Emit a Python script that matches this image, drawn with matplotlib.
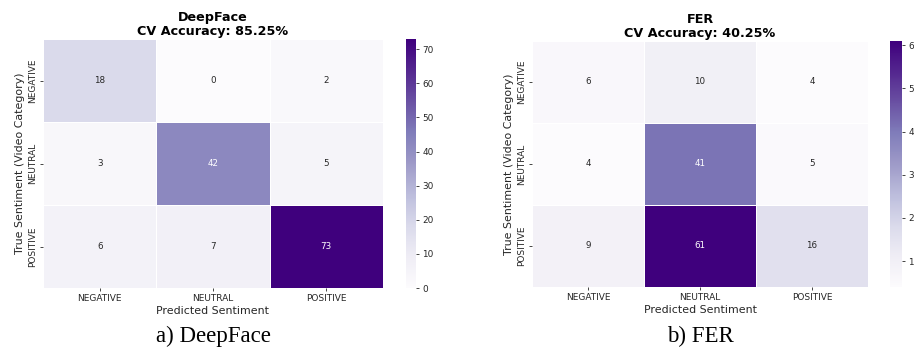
import numpy as np
import matplotlib
matplotlib.use("Agg")
import matplotlib.pyplot as plt
import seaborn as sns

classes = ["NEGATIVE", "NEUTRAL", "POSITIVE"]

deepface_counts = [[18, 0, 2],
                   [3, 42, 5],
                   [6, 7, 73]]
deepface_acc = 85.25

fer_counts = [[6, 10, 4],
              [4, 41, 5],
              [9, 61, 16]]
fer_acc = 40.25
fer_color_divisor = 10  # FER colour scale was drawn from counts / 10

TICK_FS = 6.5
ANNOT_FS = 6.3
LABEL_FS = 7.9
TITLE_FS = 9.2
CBAR_FS = 6.4
TEXT_COLOR = "#262626"

fig = plt.figure(figsize=(9.14, 3.51), dpi=100)
W, H = 914, 351


def px_axes(left, top, right, bottom):
    return fig.add_axes([left / W, 1 - bottom / H, (right - left) / W, (bottom - top) / H])


def draw(ax, cax, counts, colors, title, vmin=None, vmax=None):
    sns.heatmap(np.asarray(colors, dtype=float), annot=np.asarray(counts), fmt="d",
                cmap="Purples", ax=ax, cbar_ax=cax, vmin=vmin, vmax=vmax,
                linewidths=0.5, linecolor="white",
                xticklabels=classes, yticklabels=classes,
                annot_kws={"fontsize": ANNOT_FS})
    ax.set_title(title, fontsize=TITLE_FS, fontweight="bold", pad=3, linespacing=1.05)
    ax.set_xlabel("Predicted Sentiment", fontsize=LABEL_FS, color=TEXT_COLOR, labelpad=2)
    ax.set_ylabel("True Sentiment (Video Category)", fontsize=LABEL_FS, color=TEXT_COLOR, labelpad=2)
    ax.tick_params(labelsize=TICK_FS, length=2.5, width=0.6, pad=2, colors=TEXT_COLOR)
    for t in ax.get_yticklabels():
        t.set_rotation(90)
        t.set_va("center")
    for t in ax.get_xticklabels():
        t.set_rotation(0)
    cax.tick_params(labelsize=CBAR_FS, length=2.5, width=0.6, pad=2, colors=TEXT_COLOR)


ax1 = px_axes(43, 39, 383, 288)
cax1 = px_axes(406, 39, 416, 288)
draw(ax1, cax1, deepface_counts, deepface_counts,
     f"DeepFace\nCV Accuracy: {deepface_acc:.2f}%")

ax2 = px_axes(532, 41, 868, 287)
cax2 = px_axes(890, 41, 902, 287)
fer_colors = np.asarray(fer_counts, dtype=float) / fer_color_divisor
draw(ax2, cax2, fer_counts, fer_colors,
     f"FER\nCV Accuracy: {fer_acc:.2f}%")

fig.text(213 / W, 1 - 336 / H, "a) DeepFace", family="Liberation Serif",
         fontsize=16.5, ha="center", va="center", color="black")
fig.text(700 / W, 1 - 336 / H, "b) FER", family="Liberation Serif",
         fontsize=16.5, ha="center", va="center", color="black")

fig.savefig("out.png", dpi=100)
